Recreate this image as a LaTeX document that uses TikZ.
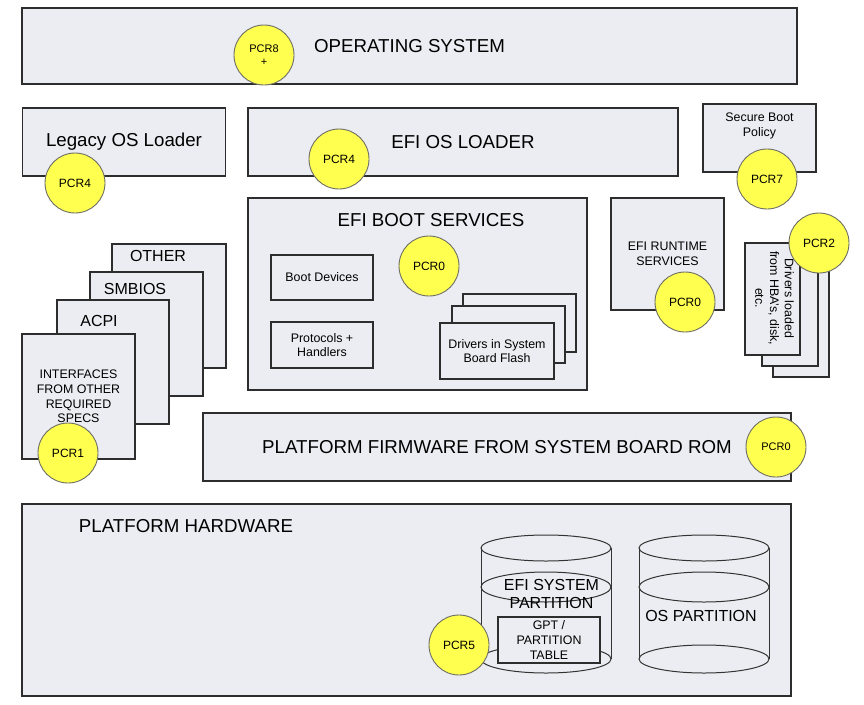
\documentclass[tikz,border=0pt]{standalone}
\usepackage{fontspec}
\setmainfont{Liberation Sans}
\usepackage{tikz}
\usetikzlibrary{positioning}
\definecolor{boxfill}{RGB}{236,237,242}
\definecolor{boxline}{RGB}{45,45,45}
\definecolor{pcrfill}{RGB}{255,255,80}
\definecolor{pcrline}{RGB}{110,110,100}
\newcommand{\fbig}{\fontsize{18.7}{22}\selectfont}
\newcommand{\fmid}{\fontsize{16}{18}\selectfont}
\newcommand{\fsmall}{\fontsize{12.4}{14.7}\selectfont}
\newcommand{\fpcr}{\fontsize{12}{14}\selectfont}
\tikzstyle{block} = [rectangle, draw=boxline, fill=boxfill, line width=1.2pt, inner sep=0pt, align=center]
\tikzstyle{pcr} = [circle, draw=pcrline, fill=pcrfill, line width=0.9pt, minimum size=60pt, inner sep=0pt, align=center, font=\fpcr]
\tikzstyle{disk} = [draw=black!80, line width=1pt]

\begin{document}
\begin{tikzpicture}[x=1pt, y=-1pt]
\useasboundingbox (0,0) rectangle (864,704);

% operating system
\node (os) [block, minimum width=775pt, minimum height=76pt, font=\fbig] at (409.5,46) {OPERATING SYSTEM};
\node (pcr8) [pcr, font=\fontsize{11}{13}\selectfont] at (264,55) {PCR8\\+};

% loaders
\node (legacy) [block, minimum width=203pt, minimum height=68pt, font=\fbig] at (124,142) {Legacy OS Loader};
\node (pcr4a) [pcr] at (75,183) {PCR4};
\node (osloader) [block, minimum width=430pt, minimum height=68pt, font=\fbig] at (463,142) {EFI OS LOADER};
\node (pcr4b) [pcr] at (339,159) {PCR4};
\node (secboot) [block, minimum width=113pt, minimum height=68pt] at (759.5,138) {};
\node (secboot-txt) [font=\fsmall, align=center, below=6pt of secboot.north] {Secure Boot\\Policy};
\node (pcr7) [pcr] at (767,179) {PCR7};

% other specs
\node (other) [block, minimum width=114pt, minimum height=124pt] at (169,306) {};
\node (other-txt) [font=\fmid] at (158,256) {OTHER};
\node (smbios) [block, minimum width=113pt, minimum height=124pt] at (146.5,334) {};
\node (smbios-txt) [font=\fmid] at (135,289) {SMBIOS};
\node (acpi) [block, minimum width=112pt, minimum height=124pt] at (113,362) {};
\node (acpi-txt) [font=\fmid] at (99,321) {ACPI};
\node (specs) [block, minimum width=113pt, minimum height=125pt, font=\fsmall] at (78.5,396.5) {INTERFACES\\FROM OTHER\\REQUIRED\\SPECS};
\node (pcr1) [pcr] at (68,453) {PCR1};

% boot services
\node (bootsvc) [block, minimum width=339pt, minimum height=192pt] at (417.5,294) {};
\node (bootsvc-txt) [font=\fbig] at (431,220) {EFI BOOT SERVICES};
\node (pcr0a) [pcr] at (429,266) {PCR0};
\node (bootdev) [block, minimum width=102pt, minimum height=45pt, font=\fsmall] at (322,277.5) {Boot Devices};
\node (proto) [block, minimum width=102pt, minimum height=46pt, font=\fsmall] at (322,345) {Protocols +\\Handlers};
\node (flash3) [block, minimum width=113pt, minimum height=58pt] at (519.5,323) {};
\node (flash2) [block, minimum width=113pt, minimum height=57pt] at (508.5,334.5) {};
\node (flash1) [block, minimum width=114pt, minimum height=56pt, font=\fsmall] at (497,351) {Drivers in System\\Board Flash};

% runtime services
\node (runtime) [block, minimum width=113pt, minimum height=112pt, font=\fsmall] at (667.5,254) {EFI RUNTIME\\SERVICES};
\node (pcr0b) [pcr] at (685,302) {PCR0};

% option rom drivers
\node (hba3) [block, minimum width=56pt, minimum height=112pt] at (801,321) {};
\node (hba2) [block, minimum width=56pt, minimum height=112pt] at (790,310) {};
\node (hba1) [block, minimum width=55pt, minimum height=112pt] at (772.5,299) {};
\node (hba-txt) [font=\fsmall, rotate=-90, align=center] at (774.5,298) {Drivers loaded\\from HBA's, disk,\\etc.};
\node (pcr2) [pcr] at (819,243) {PCR2};

% firmware
\node (firmware) [block, minimum width=588pt, minimum height=68pt, font=\fbig] at (497,447) {PLATFORM FIRMWARE FROM SYSTEM BOARD ROM};
\node (pcr0c) [pcr, font=\fontsize{11}{13}\selectfont] at (776,447) {PCR0};

% hardware and disks
\node (hardware) [block, minimum width=769pt, minimum height=192pt] at (406.5,600) {};
\node (hardware-txt) [font=\fbig] at (186,526) {PLATFORM HARDWARE};
\foreach \cx in {546,704} {
  \draw[disk] (\cx-65,548) -- (\cx-65,659);
  \draw[disk] (\cx+65,548) -- (\cx+65,659);
  \draw[disk] (\cx,548) ellipse [x radius=65, y radius=13];
  \draw[disk] (\cx,587) ellipse [x radius=65, y radius=15];
  \draw[disk] (\cx,659) ellipse [x radius=65, y radius=14];
}
\node (efipart) [font=\fmid, align=center] at (551.5,594) {EFI SYSTEM\\PARTITION};
\node (ospart) [font=\fmid] at (701,616) {OS PARTITION};
\node (gpt) [block, minimum width=102pt, minimum height=46pt, font=\fsmall] at (549,640) {GPT /\\PARTITION\\TABLE};
\node (pcr5) [pcr] at (459,645) {PCR5};

\end{tikzpicture}
\end{document}
